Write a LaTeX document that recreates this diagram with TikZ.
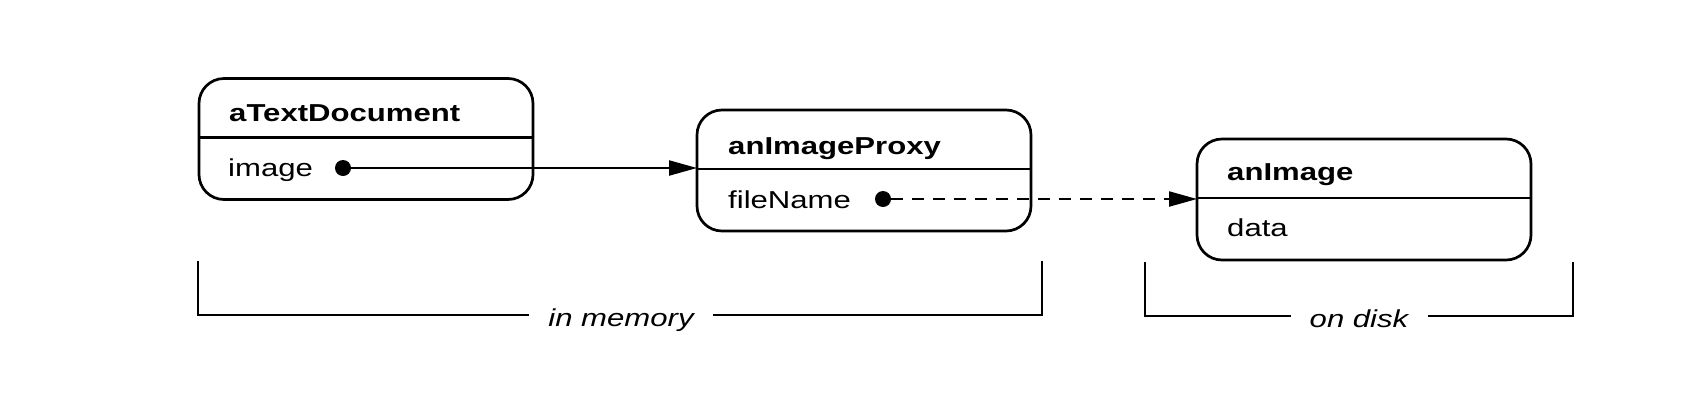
\documentclass[tikz,border=0pt]{standalone}
\usepackage{fontspec}
\setmainfont{Liberation Sans}[FakeStretch=1.27]
\usetikzlibrary{arrows.meta}
\begin{document}
\begin{tikzpicture}[x=1pt,y=-1pt,
  objbox/.style={draw, line width=2.7pt, rounded corners=25pt, minimum width=334pt, minimum height=121pt, inner sep=0pt, outer sep=0pt},
  sepline/.style={line width=2.7pt},
  title/.style={anchor=base west, inner sep=0pt, font=\fontsize{24.5pt}{28pt}\selectfont\bfseries},
  attr/.style={anchor=base west, inner sep=0pt, font=\fontsize{24.5pt}{28pt}\selectfont},
  refdot/.style={circle, fill, minimum size=16pt, inner sep=0pt},
  conn/.style={line width=2.2pt, -{Triangle[length=28pt,width=15pt]}},
  dconn/.style={conn, dash pattern=on 12pt off 9pt},
  bracket/.style={line width=2.4pt},
  brlabel/.style={anchor=base, inner xsep=19pt, inner ysep=0pt, font=\fontsize{24.5pt}{28pt}\selectfont\itshape}
]
\useasboundingbox (0,0) rectangle (1707,405);

% objects
\node[objbox] (doc) at (366,139) {};
\draw[sepline] ([yshift=-59pt]doc.north west) -- ([yshift=-59pt]doc.north east);
\node[title] (docT) at (229,121) {aTextDocument};
\node[attr] (docA) at (228,176.5) {image};
\node[refdot] (d1) at (343,168) {};

\node[objbox] (proxy) at (864,170.5) {};
\draw[sepline] ([yshift=-59pt]proxy.north west) -- ([yshift=-59pt]proxy.north east);
\node[title] (proxyT) at (728,154.5) {anImageProxy};
\node[attr] (proxyA) at (728,208) {fileName};
\node[refdot] (d2) at (883,199) {};

\node[objbox] (img) at (1364,199.5) {};
\draw[sepline] ([yshift=-59pt]img.north west) -- ([yshift=-59pt]img.north east);
\node[title] (imgT) at (1227,180) {anImage};
\node[attr] (imgA) at (1227,236.5) {data};

% connectors
\draw[conn] (d1) -- (d1 -| proxy.west);
\draw[dconn] (d2) -- (d2 -| img.west);

% brackets
\coordinate (mTL) at (198,261);
\coordinate (mBL) at (198,315);
\coordinate (mBR) at (1042,315);
\coordinate (mTR) at (1042,261);
\node[brlabel] (mem) at (621,326) {in memory};
\draw[bracket] (mTL) -- (mBL) -- (mBL -| mem.west);
\draw[bracket] (mem.east |- mBR) -- (mBR) -- (mTR);

\coordinate (dTL) at (1145,262);
\coordinate (dBL) at (1145,316);
\coordinate (dBR) at (1573,316);
\coordinate (dTR) at (1573,262);
\node[brlabel] (disk) at (1359,327) {on disk};
\draw[bracket] (dTL) -- (dBL) -- (dBL -| disk.west);
\draw[bracket] (disk.east |- dBR) -- (dBR) -- (dTR);
\end{tikzpicture}
\end{document}
